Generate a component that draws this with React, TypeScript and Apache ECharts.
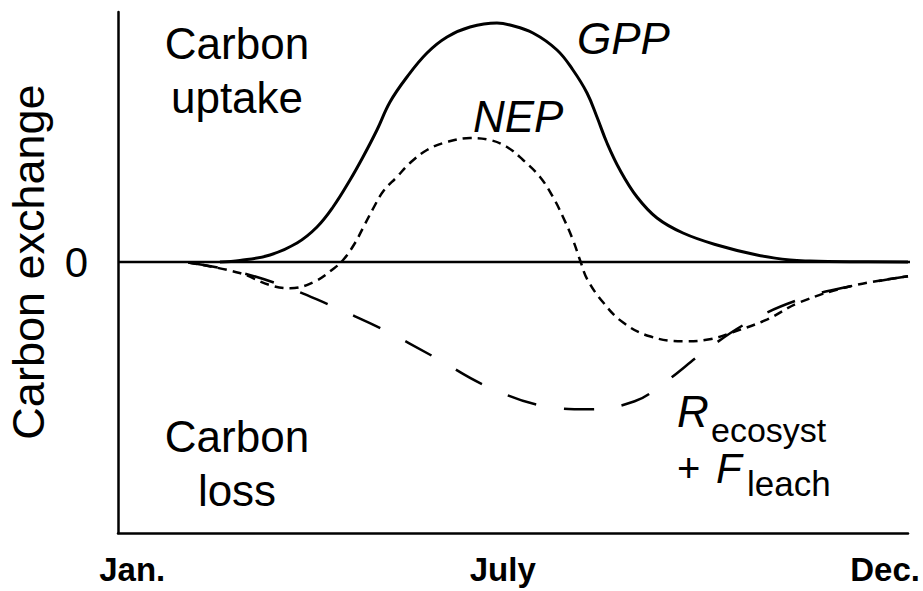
import React, { useEffect, useRef } from "react";
import * as echarts from "echarts";

// x: position along the year (0 = start of axis, 100 = end of axis)
// y: carbon exchange (arbitrary units, 0 = no net exchange)
const tickPositions = [1.8, 48.7, 97.1];
const tickLabels = ["Jan.", "July", "Dec."];

const gppX = [12.9, 15.44, 19.24, 22.66, 25.19, 27.22, 29.37, 31.01, 32.78, 34.43, 36.58, 39.11, 41.65, 44.56, 47.97, 49.62, 52.53, 55.57, 57.59, 59.37, 60.63, 61.9, 63.54, 65.7, 68.23, 71.52, 75.82, 80.89, 85.06, 87.59, 92.66, 100];
const gppY = [0, 1.5, 7, 19, 35, 55, 82, 105, 132, 160, 185, 209, 225, 235, 239, 237, 229, 212, 192, 169, 145, 119, 92, 65, 44, 29, 17, 7, 2, 1, 0.3, 0];

const nepX = [8.9, 15.4, 19.2, 21.8, 24.7, 27.4, 28.6, 30.0, 31.2, 32.4, 33.6, 35.3, 36.96, 39.11, 41.65, 44.56, 47.09, 49.24, 51.27, 53.42, 55.06, 56.33, 57.59, 58.48, 59.4, 61.4, 63.9, 67.3, 71.5, 74.9, 77.8, 82.2, 86.3, 92.7, 100];
const nepY = [-0.5, -11, -23, -26.3, -20.3, -6, 3, 19, 37, 55, 71, 85, 99, 112, 120, 124, 122, 115, 102, 85, 65, 45, 22, 2, -17.3, -40.3, -60.3, -74.3, -79.3, -77.3, -70.3, -57.3, -40.3, -24.3, -14.3];

const recoX = [8.9, 15.4, 21.4, 26.6, 30.0, 33.5, 40.1, 46.7, 54.1, 59.7, 65.4, 68.9, 74.6, 80.0, 86.3, 92.7, 100];
const recoY = [-0.5, -10.3, -25.3, -42.3, -54.3, -67.3, -95.3, -124.3, -144.3, -147.3, -139.3, -122.3, -87.3, -59.3, -37.3, -24.3, -14.3];

const zeroX = [0, 100.3];
const zeroY = [0, 0];

const zip = (xs: number[], ys: number[]) => xs.map((x, i) => [x, ys[i]]);

const FONT = "Liberation Sans, Arial, Helvetica, sans-serif";

function txt(text: string, x: number, y: number, size: number, opts: any = {}) {
  const align = opts.align || "left";
  return {
    type: "text",
    x,
    y,
    rotation: opts.rotation || 0,
    silent: true,
    style: {
      text,
      fill: "#000",
      fontSize: size,
      fontFamily: FONT,
      fontStyle: opts.italic ? "italic" : "normal",
      fontWeight: "normal",
      lineHeight: opts.lineHeight || size,
      align,
      textAlign: align,
      verticalAlign: "middle",
      textVerticalAlign: "middle",
    },
  };
}

export default function App() {
  const ref = useRef<HTMLDivElement>(null);
  useEffect(() => {
    if (!ref.current) return;
    const chart = echarts.init(ref.current, undefined, { renderer: "svg" });
    chart.setOption({
      animation: false,
      backgroundColor: "#fff",
      grid: { left: 118, right: 15, top: 12, bottom: 58, containLabel: false },
      xAxis: {
        type: "value",
        min: 0,
        max: 100,
        axisLine: { show: true, onZero: false, lineStyle: { color: "#000", width: 2.5 } },
        axisTick: { show: false },
        splitLine: { show: false },
        axisLabel: {
          customValues: tickPositions,
          formatter: (v: number) => {
            const i = tickPositions.findIndex((p) => Math.abs(p - v) < 0.01);
            return i >= 0 ? tickLabels[i] : "";
          },
          color: "#000",
          fontSize: 33,
          fontWeight: "bold",
          fontFamily: FONT,
          margin: 20,
        },
      },
      yAxis: {
        type: "value",
        min: -271,
        max: 250,
        axisLine: { show: true, onZero: false, lineStyle: { color: "#000", width: 2.5 } },
        axisTick: { show: false },
        splitLine: { show: false },
        axisLabel: {
          customValues: [0],
          formatter: (v: number) => (Math.abs(v) < 0.01 ? "0" : ""),
          color: "#000",
          fontSize: 42,
          fontFamily: FONT,
          margin: 30,
        },
      },
      series: [
        {
          name: "zero",
          type: "line",
          data: zip(zeroX, zeroY),
          symbol: "none",
          lineStyle: { color: "#000", width: 2.5 },
        },
        {
          name: "GPP",
          type: "line",
          data: zip(gppX, gppY),
          symbol: "none",
          smooth: 0.4,
          lineStyle: { color: "#000", width: 3 },
        },
        {
          name: "NEP",
          type: "line",
          data: zip(nepX, nepY),
          symbol: "none",
          smooth: 0.4,
          lineStyle: { color: "#000", width: 2.5, type: [9, 6] },
        },
        {
          name: "Recosyst + Fleach",
          type: "line",
          data: zip(recoX, recoY),
          symbol: "none",
          smooth: 0.4,
          lineStyle: { color: "#000", width: 2.5, type: [30, 28] },
        },
      ],
      graphic: [
        txt("Carbon exchange", 28, 262, 45, { align: "center", rotation: Math.PI / 2 }),
        txt("Carbon", 237, 43, 44, { align: "center" }),
        txt("uptake", 237, 97, 44, { align: "center" }),
        txt("Carbon", 237, 436, 44, { align: "center" }),
        txt("loss", 237, 490, 44, { align: "center" }),
        txt("GPP", 577, 38, 44, { italic: true }),
        txt("NEP", 473, 116, 44, { italic: true }),
        txt("R", 677, 411, 44, { italic: true }),
        txt("ecosyst", 711, 430, 34, { lineHeight: 30 }),
        txt("+", 677, 468, 40, { lineHeight: 36 }),
        txt("F", 716, 468, 42, { italic: true, lineHeight: 36 }),
        txt("leach", 747, 483, 35, { lineHeight: 32 }),
      ],
    });
    return () => chart.dispose();
  }, []);
  return (
    <div
      ref={ref}
      style={{ position: "absolute", left: 0, top: 0, width: 923, height: 591, background: "#fff" }}
    />
  );
}
